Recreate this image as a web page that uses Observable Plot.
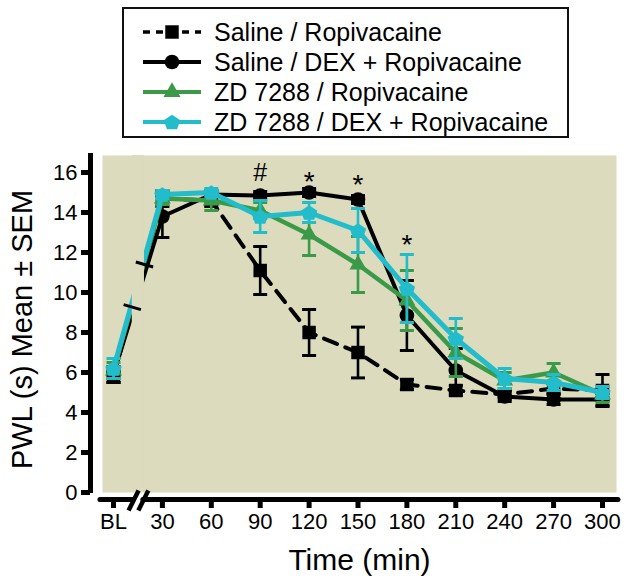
<!DOCTYPE html>
<html>
<head>
<meta charset="utf-8">
<script src="https://cdn.jsdelivr.net/npm/d3@7"></script>
<script src="https://cdn.jsdelivr.net/npm/@observablehq/plot@0.6"></script>
<style>
  html, body { margin: 0; padding: 0; background: #fff; }
  body { width: 628px; height: 583px; overflow: hidden; font-family: "Liberation Sans", Arial, sans-serif; }
  #legendArea { position: relative; width: 628px; height: 150px; }
  #legend { position: absolute; left: 122px; top: 7px; width: 443px; height: 127px; border: 2px solid #111; background: #fff; }
  .row { position: absolute; left: 0; height: 30px; display: flex; align-items: center; }
  .row svg { margin-left: 18px; }
  .row span { margin-left: 12px; font-size: 25px; color: #000; white-space: nowrap; }
  #chart svg { display: block; }
</style>
</head>
<body>
<div id="legendArea"><div id="legend"></div></div>
<div id="chart"></div>
<script>
// ---------------- data ----------------
const times = [0, 30, 60, 90, 120, 150, 180, 210, 240, 270, 300];
const xTickLabels = ["BL", "30", "60", "90", "120", "150", "180", "210", "240", "270", "300"];
const yTicks = [0, 2, 4, 6, 8, 10, 12, 14, 16];

const seriesNames = ["Saline / Ropivacaine", "Saline / DEX + Ropivacaine", "ZD 7288 / Ropivacaine", "ZD 7288 / DEX + Ropivacaine"];

const salineRopiMean = [5.8, 14.7, 14.6, 11.1, 8.0, 7.0, 5.4, 5.1, 4.9, 5.2, 5.1];
const salineRopiSem  = [0.3, 0.4, 0.3, 1.2, 1.15, 1.27, 0.25, 0.25, 0.2, 0.25, 0.8];

const salineDexMean = [5.9, 13.8, 14.9, 14.85, 15.0, 14.65, 8.85, 6.1, 4.8, 4.65, 4.65];
const salineDexSem  = [0.4, 1.05, 0.2, 0.2, 0.2, 0.2, 1.75, 1.1, 0.25, 0.25, 0.3];

const zdRopiMean = [6.1, 14.7, 14.6, 14.1, 12.9, 11.4, 9.6, 7.0, 5.6, 6.0, 4.9];
const zdRopiSem  = [0.4, 0.3, 0.5, 0.4, 1.05, 1.4, 1.5, 1.2, 0.4, 0.45, 0.4];

const zdDexMean = [6.2, 14.9, 15.0, 13.8, 14.0, 13.1, 10.2, 7.7, 5.7, 5.5, 5.0];
const zdDexSem  = [0.5, 0.2, 0.2, 0.8, 0.5, 1.1, 1.7, 1.0, 0.5, 0.4, 0.3];

const sigTimes  = [90, 120, 150, 180];
const sigLabels = ["#", "*", "*", "*"];
const sigY      = [16.0, 15.85, 15.7, 12.7];

// ---------------- styling ----------------
const BG = "#dcdbbe";
const FONT = "'Liberation Sans', Arial, sans-serif";
const W = 628, H = 433, mL = 102, mR = 12, mT = 5, mB = 91;
const xDomain = [-6.75, 308.6], yDomain = [0, 16.85];
const kx = (W - mL - mR) / (xDomain[1] - xDomain[0]);   // px per minute
const ky = (H - mT - mB) / (yDomain[1] - yDomain[0]);   // px per unit
const lineBreak = [11.5, 19];     // gap in the BL -> 30 segment (minutes)
const axisBreak = [12.3, 18.3];   // slashes on the x axis (minutes)

const pentagon = {
  draw(ctx, size) {
    const R = Math.sqrt(size / Math.PI);
    for (let i = 0; i < 5; i++) {
      const a = -Math.PI / 2 + i * 2 * Math.PI / 5;
      const px = R * 1.08 * Math.cos(a), py = R * Math.sin(a) + R * 0.1;
      i ? ctx.lineTo(px, py) : ctx.moveTo(px, py);
    }
    ctx.closePath();
  }
};
const capSymbol = {
  draw(ctx, size) {
    const w = Math.sqrt(size / Math.PI);
    ctx.moveTo(-w, 0); ctx.lineTo(w, 0);
  }
};

const series = [
  {name: seriesNames[0], mean: salineRopiMean, sem: salineRopiSem, color: "#000", width: 4, dash: "14,9", symbol: "square", r: 7.6},
  {name: seriesNames[1], mean: salineDexMean, sem: salineDexSem, color: "#000", width: 4, dash: null, symbol: "circle", r: 7.3},
  {name: seriesNames[2], mean: zdRopiMean, sem: zdRopiSem, color: "#3a9a48", width: 4.5, dash: null, symbol: "triangle", r: 6.3},
  {name: seriesNames[3], mean: zdDexMean, sem: zdDexSem, color: "#22bccb", width: 5, dash: null, symbol: pentagon, r: 8}
];

// ---------------- marks ----------------
const marks = [Plot.frame({fill: BG, stroke: "none"})];

for (const s of series) {
  const rows = times.map((t, i) => ({time: t, mean: s.mean[i], sem: s.sem[i]}));
  marks.push(Plot.line(rows, {x: "time", y: "mean", stroke: s.color, strokeWidth: s.width,
    strokeDasharray: s.dash || undefined, strokeLinejoin: "miter"}));
  marks.push(Plot.ruleX(rows, {x: "time", y1: d => d.mean - d.sem, y2: d => d.mean + d.sem, stroke: s.color, strokeWidth: 2.6}));
  marks.push(Plot.dot(rows, {x: "time", y: d => d.mean + d.sem, symbol: capSymbol, r: 7, stroke: s.color, strokeWidth: 3, fill: "none"}));
  marks.push(Plot.dot(rows, {x: "time", y: d => d.mean - d.sem, symbol: capSymbol, r: 7, stroke: s.color, strokeWidth: 3, fill: "none"}));
  marks.push(Plot.dot(rows, {x: "time", y: "mean", symbol: s.symbol, r: s.r, fill: s.color, stroke: "none"}));
}

// break in the BL -> 30 segment
marks.push(Plot.rect([lineBreak], {x1: d => d[0], x2: d => d[1], y1: () => yDomain[0], y2: () => yDomain[1], fill: BG}));
{
  const y0 = d3.mean(series, s => s.mean[0]);
  const y1 = d3.mean(series, s => s.mean[1]);
  const yAt = t => y0 + (y1 - y0) * (t - times[0]) / (times[1] - times[0]);
  const slopePx = -((y1 - y0) * ky) / ((times[1] - times[0]) * kx); // screen dy/dx
  const nx = 1, ny = -1 / slopePx;
  const len = Math.hypot(nx, ny), half = 9;
  const dxPx = half * nx / len, dyPx = half * ny / len;
  const caps = lineBreak.map(t => ({
    x1: t - dxPx / kx, y1: yAt(t) + dyPx / ky,
    x2: t + dxPx / kx, y2: yAt(t) - dyPx / ky
  }));
  marks.push(Plot.link(caps, {x1: "x1", y1: "y1", x2: "x2", y2: "y2", stroke: "#000", strokeWidth: 3}));
}

// significance markers
const sig = sigTimes.map((t, i) => ({time: t, label: sigLabels[i], y: sigY[i]}));
marks.push(Plot.text(sig.filter(d => d.label === "#"), {x: "time", y: "y", text: "label", fontSize: 25, lineAnchor: "middle", fill: "#000"}));
marks.push(Plot.text(sig.filter(d => d.label !== "#"), {x: "time", y: "y", text: "label", fontSize: 28, lineAnchor: "middle", dy: 7, fill: "#000"}));

// axes
const xLabelMap = new Map(times.map((t, i) => [t, xTickLabels[i]]));
marks.push(Plot.axisY({ticks: yTicks, tickSize: 9, dx: -12, strokeWidth: 5, tickPadding: 4, fontSize: 22, label: null}));
marks.push(Plot.axisX({ticks: times, tickFormat: d => xLabelMap.get(d), tickSize: 9, dy: 7, strokeWidth: 5, tickPadding: 5, fontSize: 22, label: null}));
// y axis line
marks.push(Plot.ruleX([xDomain[0]], {y1: () => -0.05, y2: () => 16.95, dx: -12, stroke: "#000", strokeWidth: 5}));
// x axis line with break
const xAxisExtent = [-8, 309.8];
marks.push(Plot.ruleY([[xAxisExtent[0], axisBreak[0]], [axisBreak[1], xAxisExtent[1]]],
  {y: () => 0, x1: d => d[0], x2: d => d[1], dy: 7, stroke: "#000", strokeWidth: 5, strokeLinecap: "round"}));
marks.push(Plot.link(axisBreak, {
  x1: d => d - 5 / kx, y1: () => -18 / ky, x2: d => d + 5 / kx, y2: () => 2 / ky,
  stroke: "#000", strokeWidth: 4.5}));

// axis titles
marks.push(Plot.text(["Time (min)"], {frameAnchor: "bottom", text: d => d, fontSize: 30, lineAnchor: "bottom", dy: 77, fill: "#000"}));
marks.push(Plot.text(["PWL (s) Mean \u00b1 SEM"], {frameAnchor: "left", text: d => d, fontSize: 29, rotate: -90,
  textAnchor: "middle", lineAnchor: "bottom", dx: -71, dy: 5.5, fill: "#000"}));

const chart = Plot.plot({
  width: W, height: H,
  marginLeft: mL, marginRight: mR, marginTop: mT, marginBottom: mB,
  x: {domain: xDomain},
  y: {domain: yDomain},
  style: {fontFamily: FONT, fontSize: "22px", color: "#000", background: "transparent", overflow: "visible"},
  marks
});
document.getElementById("chart").appendChild(chart);

// ---------------- legend ----------------
const legend = d3.select("#legend");
series.forEach((s, i) => {
  const row = legend.append("div").attr("class", "row").style("top", (8 + i * 30) + "px");
  const svg = row.append("svg").attr("width", 60).attr("height", 22);
  svg.append("line").attr("x1", 1).attr("x2", 59).attr("y1", 11).attr("y2", 11)
    .attr("stroke", s.color).attr("stroke-width", s.dash ? 3.5 : 4)
    .attr("stroke-dasharray", s.dash ? "7,6" : null);
  const sym = typeof s.symbol === "string"
    ? d3.symbol().type({square: d3.symbolSquare, circle: d3.symbolCircle, triangle: d3.symbolTriangle}[s.symbol]).size(Math.PI * s.r * s.r)
    : d3.symbol().type(s.symbol).size(Math.PI * s.r * s.r);
  svg.append("path").attr("d", sym()).attr("transform", "translate(30,11)").attr("fill", s.color);
  row.append("span").text(s.name);
});
</script>
</body>
</html>
